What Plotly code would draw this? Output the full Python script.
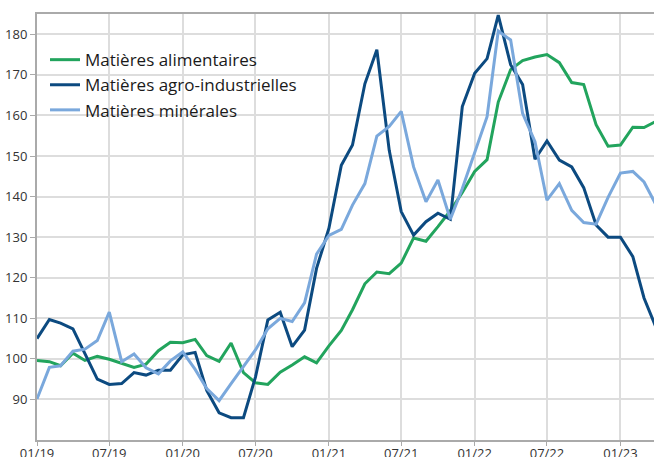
import pandas as pd
import plotly.graph_objects as go

# monthly index, base 100
months = pd.date_range("2019-01-01", periods=52, freq="MS")

alimentaires = [
    99.6, 99.3, 98.3, 101.4, 99.6, 100.6, 99.9, 98.9, 97.9, 98.7, 102.0, 104.1,
    104.0, 104.8, 100.8, 99.4, 103.9, 96.6, 94.1, 93.7, 96.7, 98.5, 100.5, 99.0,
    103.2, 107.0, 112.1, 118.5, 121.4, 121.0, 123.6, 129.8, 129.0, 132.6, 136.5, 141.0,
    146.2, 149.1, 163.3, 171.3, 173.5, 174.4, 175.0, 173.0, 168.1, 167.6, 157.7, 152.4,
    152.7, 157.1, 157.0, 158.6,
]
agro_industrielles = [
    105.0, 109.7, 108.8, 107.4, 101.3, 95.0, 93.7, 93.9, 96.6, 96.0, 97.2, 97.2,
    101.0, 101.6, 92.2, 86.7, 85.5, 85.5, 95.5, 109.6, 111.5, 103.0, 107.1, 122.3,
    132.2, 147.7, 152.7, 167.8, 176.2, 151.4, 136.3, 130.5, 133.8, 135.9, 134.4, 162.2,
    170.4, 174.0, 184.7, 172.5, 167.6, 149.2, 153.7, 149.0, 147.3, 142.2, 133.0, 130.0,
    130.0, 125.2, 115.0, 107.5,
]
minerales = [
    90.1, 97.9, 98.3, 101.9, 102.4, 104.5, 111.5, 99.3, 101.2, 97.8, 96.3, 99.5,
    101.7, 97.4, 92.7, 89.7, 93.9, 98.1, 102.2, 107.4, 110.0, 109.2, 113.8, 125.8,
    130.4, 131.9, 137.9, 143.2, 154.9, 157.3, 161.0, 147.3, 138.7, 144.1, 134.4, 142.0,
    151.0, 159.7, 180.8, 178.6, 160.5, 153.5, 139.1, 143.2, 136.6, 133.6, 133.2, 139.8,
    145.8, 146.2, 143.6, 137.8,
]

series = [
    ("Matières alimentaires", alimentaires, "#22a45d"),
    ("Matières agro-industrielles", agro_industrielles, "#0c4a80"),
    ("Matières minérales", minerales, "#7aa8dc"),
]

fig = go.Figure()
for name, vals, col in series:
    fig.add_trace(go.Scatter(x=months, y=vals, name=name, mode="lines",
                             line=dict(color=col, width=3)))

fig.update_layout(
    width=654, height=457,
    margin=dict(l=37, r=0, t=14, b=17, autoexpand=False),
    paper_bgcolor="white", plot_bgcolor="white",
    font=dict(family="Open Sans", size=13, color="#333333"),
    showlegend=True,
    legend=dict(x=0.013, y=0.934, xanchor="left", yanchor="top",
                bgcolor="rgba(0,0,0,0)", font=dict(size=17, color="#1a1a1a"),
                itemwidth=30, tracegroupgap=0),
)
fig.update_xaxes(
    type="date", range=["2019-01-01", "2023-03-26"], automargin=False,
    dtick="M6", tick0="2019-01-01", tickformat="%m/%y",
    showgrid=True, gridcolor="#dddddd", gridwidth=1.5,
    showline=True, linecolor="#aaaaaa", linewidth=2, mirror=True,
    ticks="outside", ticklen=4, tickcolor="#aaaaaa", ticklabelstandoff=-4,
)
fig.update_yaxes(
    range=[80, 185], tickvals=[90, 100, 110, 120, 130, 140, 150, 160, 170, 180],
    automargin=False,
    showgrid=True, gridcolor="#dddddd", gridwidth=1.5,
    showline=True, linecolor="#aaaaaa", linewidth=2,
    ticks="outside", ticklen=5, tickcolor="#aaaaaa", zeroline=False,
)

# drop the default body margin so the figure fills the window exactly
fig.write_html("out.html", config={"displayModeBar": False},
               post_script="document.body.style.margin='0';"
                           "document.body.style.overflow='hidden';")
